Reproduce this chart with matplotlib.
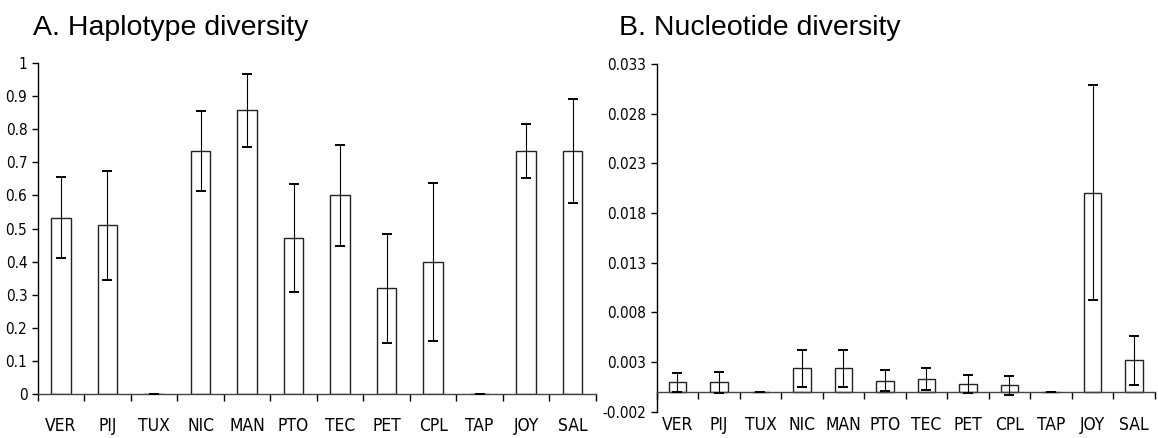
import numpy as np
import matplotlib
matplotlib.use('Agg')
import matplotlib.pyplot as plt

sites = ['VER', 'PIJ', 'TUX', 'NIC', 'MAN', 'PTO', 'TEC', 'PET', 'CPL', 'TAP', 'JOY', 'SAL']

# haplotype diversity (h) and its error
hap = [0.533, 0.510, 0.0, 0.733, 0.857, 0.472, 0.600, 0.320, 0.400, 0.0, 0.733, 0.733]
hap_err = [0.122, 0.164, 0.0, 0.120, 0.110, 0.163, 0.152, 0.164, 0.238, 0.0, 0.081, 0.157]

# nucleotide diversity (pi) and its error
nuc = [0.00095, 0.00095, 0.0, 0.00237, 0.00237, 0.00112, 0.00129, 0.00082, 0.00065, 0.0, 0.02003, 0.00317]
nuc_err = [0.00094, 0.00106, 0.0, 0.00187, 0.00187, 0.00107, 0.00107, 0.00090, 0.00094, 0.0, 0.01083, 0.00245]

hap_ticks = np.round(np.arange(0, 1.01, 0.1), 1)
nuc_ticks = np.round(np.arange(-0.002, 0.0331, 0.005), 3)

lab_font = dict(family='DejaVu Sans', stretch='condensed')

fig = plt.figure(figsize=(11.58, 4.38), dpi=100)
axA = fig.add_axes([0.03256, 0.0995, 0.4821, 0.7573])
axB = fig.add_axes([0.5671, 0.06005, 0.4301, 0.7939])
axB.spines['bottom'].set_position(('data', 0))

x = np.arange(len(sites))


def draw(ax, vals, errs, ticks, fmt, pad):
    ax.bar(x, vals, width=0.42, color='white', edgecolor='#222222', linewidth=1.0, zorder=2)
    ax.errorbar(x, vals, yerr=errs, fmt='none', ecolor='black', elinewidth=0.8,
                capsize=3.5, capthick=1.4, zorder=3)
    ax.set_xlim(-0.5, len(sites) - 0.5)
    ax.set_ylim(ticks[0], ticks[-1])
    ax.set_yticks(ticks)
    ax.set_yticklabels([fmt(t) for t in ticks], fontsize=11, **lab_font)
    ax.set_xticks(x)
    ax.set_xticklabels(sites, fontsize=12.5, **lab_font)
    ax.set_xticks(np.arange(-0.5, len(sites)), minor=True)
    ax.tick_params(axis='x', which='major', length=0, pad=pad)
    ax.tick_params(axis='x', which='minor', length=5, width=1, direction='out')
    ax.tick_params(axis='y', length=4, width=1, direction='out', pad=3.5)
    for s in ['top', 'right']:
        ax.spines[s].set_visible(False)
    ax.spines['left'].set_linewidth(1)
    ax.spines['bottom'].set_linewidth(1)
    ax.spines['bottom'].set_color('#444444')


draw(axA, hap, hap_err, hap_ticks, lambda t: '%g' % t, 16.5)
draw(axB, nuc, nuc_err, nuc_ticks, lambda t: '%.3f' % t, 17.3)

fig.text(0.0285, 0.921, 'A. Haplotype diversity', fontsize=20.5,
         family='Liberation Sans', va='baseline', ha='left')
fig.text(0.5345, 0.921, 'B. Nucleotide diversity', fontsize=20.5,
         family='Liberation Sans', va='baseline', ha='left')

fig.savefig('out.png', dpi=100)
